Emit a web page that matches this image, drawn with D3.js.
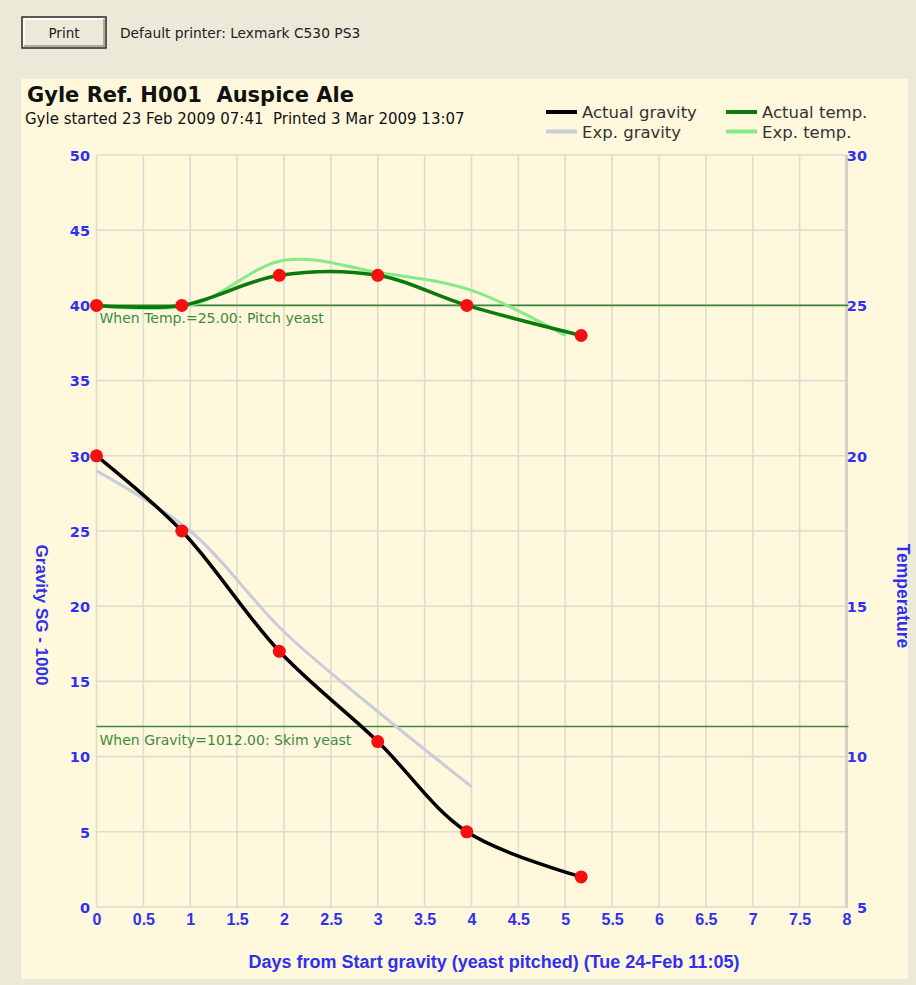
<!DOCTYPE html>
<html>
<head>
<meta charset="utf-8">
<script src="https://cdn.jsdelivr.net/npm/d3@7"></script>
<style>
  html, body { margin: 0; padding: 0; background: #ECE9D8; }
  svg { display: block; }
  text { white-space: pre; }
</style>
</head>
<body>
<svg id="chart"></svg>
<script>
// days from pitching for each reading
const days = [0, 0.91, 1.95, 3.0, 3.95, 5.17];
const actualGravity = [30, 25, 17, 11, 5, 2];
const actualTemp = [25, 25, 26, 26, 25, 24];

// expected profiles
const expDays = [0, 1, 2, 3, 4];
const expGravity = [29, 25, 18.3, 13, 8];
const expTempDays = [0, 1, 2, 3, 4, 5];
const expTemp = [25, 25, 26.5, 26.1, 25.5, 24];

const xTicks = d3.range(0, 8.01, 0.5);
const gravityTicks = [0, 5, 10, 15, 20, 25, 30, 35, 40, 45, 50];
const tempTicks = [5, 10, 15, 20, 25, 30];

const markers = [
  { axis: "temp", value: 25, label: "When Temp.=25.00: Pitch yeast" },
  { axis: "gravity", value: 12, label: "When Gravity=1012.00: Skim yeast" }
];

const legendItems = [
  { name: "Actual gravity", color: "#000000", col: 0, row: 0 },
  { name: "Exp. gravity", color: "#C9CDDA", col: 0, row: 1 },
  { name: "Actual temp.", color: "#0A7A0A", col: 1, row: 0 },
  { name: "Exp. temp.", color: "#86EA86", col: 1, row: 1 }
];

const W = 916, H = 985;
const blue = "#3030F0";
const sans = "DejaVu Sans, Verdana, sans-serif";
const arial = "Liberation Sans, Arial, sans-serif";

const svg = d3.select("#chart").attr("width", W).attr("height", H);

// top toolbar
svg.append("rect").attr("x", 22).attr("y", 17).attr("width", 84).attr("height", 31)
  .attr("fill", "#ECE9D8").attr("stroke", "#2a2a2a").attr("stroke-width", 1.5);
svg.append("path").attr("d", "M24,46 V19 H104").attr("fill", "none").attr("stroke", "#fff").attr("stroke-width", 1.5);
svg.append("path").attr("d", "M24,46 H104 V19").attr("fill", "none").attr("stroke", "#9a988c").attr("stroke-width", 1.5);
svg.append("text").attr("x", 64).attr("y", 38).attr("text-anchor", "middle")
  .attr("font-family", sans).attr("font-size", 13.5).attr("fill", "#222")
  .text("Print");
svg.append("text").attr("x", 120).attr("y", 38)
  .attr("font-family", sans).attr("font-size", 13.8).attr("fill", "#222")
  .text("Default printer: Lexmark C530 PS3");

// chart panel
svg.append("rect").attr("x", 21).attr("y", 79).attr("width", 887).attr("height", 900).attr("fill", "#FFF8DC");

const x = d3.scaleLinear().domain([0, 8]).range([96.5, 846.5]);
const yG = d3.scaleLinear().domain([0, 50]).range([907, 155]);
const yT = d3.scaleLinear().domain([5, 30]).range([907, 155]);

// grid
const grid = svg.append("g").attr("stroke", "#DEDBD0").attr("stroke-width", 1.6);
grid.selectAll("line.v").data(xTicks).join("line").attr("class", "v")
  .attr("x1", d => x(d)).attr("x2", d => x(d)).attr("y1", yG(50)).attr("y2", yG(0));
grid.selectAll("line.h").data(gravityTicks).join("line").attr("class", "h")
  .attr("x1", x(0)).attr("x2", x(8)).attr("y1", d => yG(d)).attr("y2", d => yG(d));
svg.append("line").attr("x1", x(8)).attr("x2", x(8)).attr("y1", yG(50)).attr("y2", yG(0) + 1)
  .attr("stroke", "#D6D2C6").attr("stroke-width", 3);

// axes
const leftAxis = svg.append("g").attr("transform", "translate(90,0)")
  .call(d3.axisLeft(yG).tickValues(gravityTicks).tickSize(0).tickPadding(0));
const rightAxis = svg.append("g").attr("transform", "translate(867,0)")
  .call(d3.axisLeft(yT).tickValues(tempTicks).tickSize(0).tickPadding(0));
const bottomAxis = svg.append("g").attr("transform", "translate(0,913)")
  .call(d3.axisBottom(x).tickValues(xTicks).tickSize(0).tickPadding(0).tickFormat(d3.format("~g")));
[leftAxis, rightAxis, bottomAxis].forEach(a => {
  a.select(".domain").remove();
  a.selectAll("text").attr("fill", blue).attr("font-weight", "bold");
});
leftAxis.selectAll("text").attr("font-family", sans).attr("font-size", 14.5).attr("dy", "0.36em");
rightAxis.selectAll("text").attr("font-family", sans).attr("font-size", 14.5).attr("dy", "0.36em");
bottomAxis.selectAll("text").attr("font-family", arial)
  .attr("font-size", 16).attr("dy", "0.72em");

// axis titles
svg.append("text").attr("transform", "translate(36,615) rotate(90)").attr("text-anchor", "middle")
  .attr("font-family", arial).attr("font-weight", "bold")
  .attr("font-size", 17).attr("fill", blue).text("Gravity SG - 1000");
svg.append("text").attr("transform", "translate(897,596) rotate(90)").attr("text-anchor", "middle")
  .attr("font-family", arial).attr("font-weight", "bold")
  .attr("font-size", 17.5).attr("fill", blue).text("Temperature");
svg.append("text").attr("x", 494).attr("y", 968).attr("text-anchor", "middle")
  .attr("font-family", arial).attr("font-weight", "bold")
  .attr("font-size", 18).attr("fill", blue)
  .text("Days from Start gravity (yeast pitched) (Tue 24-Feb 11:05)");

// threshold markers
markers.forEach(m => {
  const yy = m.axis === "temp" ? yT(m.value) : yG(m.value);
  svg.append("line").attr("x1", x(0)).attr("x2", x(8) + 2).attr("y1", yy).attr("y2", yy)
    .attr("stroke", "#3D8A3D").attr("stroke-width", 1.6);
  svg.append("text").attr("x", x(0) + 3).attr("y", yy + 18)
    .attr("font-family", sans).attr("font-size", 14).attr("fill", "#3D8A3D")
    .text(m.label);
});

// curves
const lineG = d3.line().x(d => x(d[0])).y(d => yG(d[1])).curve(d3.curveCatmullRom.alpha(0.5));
const lineT = d3.line().x(d => x(d[0])).y(d => yT(d[1])).curve(d3.curveCatmullRom.alpha(0.5));

svg.append("path").datum(d3.zip(expDays, expGravity)).attr("d", lineG)
  .attr("fill", "none").attr("stroke", "#C9CDDA").attr("stroke-width", 3);
svg.append("path").datum(d3.zip(expTempDays, expTemp)).attr("d", lineT)
  .attr("fill", "none").attr("stroke", "#86EA86").attr("stroke-width", 3);
svg.append("path").datum(d3.zip(days, actualGravity)).attr("d", lineG)
  .attr("fill", "none").attr("stroke", "#000").attr("stroke-width", 3.5);
svg.append("path").datum(d3.zip(days, actualTemp)).attr("d", lineT)
  .attr("fill", "none").attr("stroke", "#0A7A0A").attr("stroke-width", 3.5);

// reading points
svg.append("g").attr("fill", "#F41010").selectAll("circle")
  .data(d3.zip(days, actualGravity)).join("circle")
  .attr("cx", d => x(d[0])).attr("cy", d => yG(d[1])).attr("r", 6.5);
svg.append("g").attr("fill", "#F41010").selectAll("circle")
  .data(d3.zip(days, actualTemp)).join("circle")
  .attr("cx", d => x(d[0])).attr("cy", d => yT(d[1])).attr("r", 6.5);

// title
svg.append("text").attr("x", 27).attr("y", 102)
  .attr("font-family", sans).attr("font-weight", "bold").attr("font-size", 21).attr("fill", "#111")
  .text("Gyle Ref. H001  Auspice Ale");
svg.append("text").attr("x", 25).attr("y", 124)
  .attr("font-family", sans).attr("font-size", 15).attr("fill", "#111")
  .text("Gyle started 23 Feb 2009 07:41  Printed 3 Mar 2009 13:07");

// legend
const legend = svg.append("g").selectAll("g").data(legendItems).join("g")
  .attr("transform", d => `translate(${546 + d.col * 180},${112 + d.row * 19.5})`);
legend.append("line").attr("x1", 0).attr("x2", 31).attr("y1", 0).attr("y2", 0)
  .attr("stroke", d => d.color).attr("stroke-width", 4);
legend.append("text").attr("x", 36).attr("y", 6)
  .attr("font-family", sans).attr("font-size", 16.5).attr("fill", "#333")
  .text(d => d.name);
</script>
</body>
</html>
